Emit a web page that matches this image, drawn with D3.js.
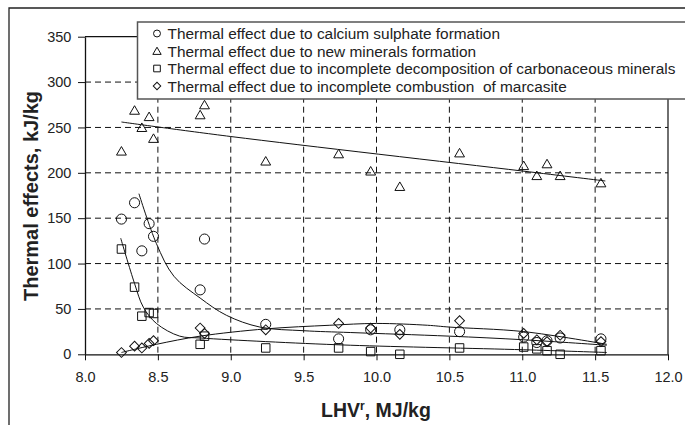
<!DOCTYPE html>
<html>
<head>
<meta charset="utf-8">
<script src="https://cdn.jsdelivr.net/npm/d3@7"></script>
<style>
  body { margin: 0; background: #fff; }
  svg { display: block; font-family: "Liberation Sans", Arial, sans-serif; }
</style>
</head>
<body>
<svg id="chart" width="685" height="425"></svg>
<script>
// LHV values shared by all four series
const lhv = [8.25, 8.34, 8.39, 8.44, 8.47, 8.79, 8.82, 9.24, 9.74, 9.96, 10.16, 10.57, 11.01, 11.10, 11.17, 11.26, 11.54];
const calciumSulphate = [149, 167, 114, 144, 130, 71, 127, 33, 17, 27, 27, 25, 19, 13, 15, 18, 17];
const newMinerals = [224, 269, 250, 262, 238, 264, 275, 213, 221, 202, 185, 222, 208, 197, 210, 197, 189];
const carbonaceous = [116, 74, 42, 46, 45, 11, 20, 7, 7, 3, 0, 7, 8, 6, 4, 0, 4];
const marcasite = [2, 9, 7, 12, 15, 29, 23, 27, 34, 29, 22, 37, 23, 16, 14, 21, 14];

// trend lines as drawn in the picture
const trendCalcium = [[8.37, 177], [8.49, 122], [8.61, 86], [8.79, 62], [8.97, 43], [9.2, 30], [9.5, 26], [9.82, 24], [10.5, 20], [11.01, 16], [11.58, 10]];
const trendMinerals = [[8.25, 256], [9.0, 240], [11.0, 202], [11.57, 191]];
const trendCarbon = [[8.245, 128], [8.34, 78], [8.4, 52], [8.49, 34], [8.65, 20], [8.79, 18], [9.24, 14], [9.82, 10], [11.01, 5], [11.58, 2]];
const trendMarcasite = [[8.25, 2], [8.49, 11], [8.79, 20], [9.24, 28], [9.68, 32], [10.0, 34], [10.35, 32], [10.5, 30], [11.01, 25], [11.58, 11]];

const xTicks = [8.0, 8.5, 9.0, 9.5, 10.0, 10.5, 11.0, 11.5, 12.0];
const yTicks = [0, 50, 100, 150, 200, 250, 300, 350];
const legendLabels = [
  "Thermal effect due to calcium sulphate formation",
  "Thermal effect due to new minerals formation",
  "Thermal effect due to incomplete decomposition of carbonaceous minerals",
  "Thermal effect due to incomplete combustion  of marcasite"
];

const svg = d3.select("#chart");
const plot = { left: 85, right: 668, top: 36.7, bottom: 354.3 };

const x = d3.scaleLinear().domain([8, 12]).range([plot.left, plot.right]);
const y = d3.scaleLinear().domain([0, 350]).range([plot.bottom, plot.top]);

// outer frame
svg.append("path")
  .attr("d", "M9,425 V8 H690")
  .attr("fill", "none")
  .attr("stroke", "#222")
  .attr("stroke-width", 1.3);

// grid
const grid = svg.append("g").attr("stroke", "#111").attr("stroke-dasharray", "6,4").attr("stroke-width", 1);
grid.selectAll(".gx").data(xTicks.slice(1, -1)).join("line")
  .attr("x1", d => x(d)).attr("x2", d => x(d))
  .attr("y1", plot.top).attr("y2", plot.bottom);
grid.selectAll(".gy").data(yTicks.slice(1, -1)).join("line")
  .attr("y1", d => y(d)).attr("y2", d => y(d))
  .attr("x1", plot.left).attr("x2", plot.right);

// plot border (top and right)
svg.append("path")
  .attr("d", `M${plot.left},${plot.top} H${plot.right} V${plot.bottom}`)
  .attr("fill", "none").attr("stroke", "#111").attr("stroke-width", 1.2);

// axes
const xAxis = svg.append("g")
  .attr("transform", `translate(0,${plot.bottom})`)
  .call(d3.axisBottom(x).tickValues(xTicks).tickFormat(d3.format(".1f")).tickSize(6).tickSizeOuter(0));
const yAxis = svg.append("g")
  .attr("transform", `translate(${plot.left},0)`)
  .call(d3.axisLeft(y).tickValues(yTicks).tickSize(7).tickSizeOuter(0));
[xAxis, yAxis].forEach(a => {
  a.select(".domain").attr("stroke", "#111").attr("stroke-width", 1.3);
  a.selectAll(".tick line").attr("stroke", "#111");
  a.selectAll("text").attr("fill", "#222").style("font-size", "14.5px").style("font-family", "'Liberation Sans', Arial, sans-serif");
});
xAxis.selectAll("text").attr("dy", "1.3em");
yAxis.selectAll("text").attr("dx", "-0.25em");

// axis titles
const xTitle = svg.append("text")
  .attr("x", 376).attr("y", 417)
  .attr("text-anchor", "middle")
  .style("font-size", "19.5px").style("font-weight", "bold").attr("fill", "#222");
xTitle.append("tspan").text("LHV");
xTitle.append("tspan").attr("dy", -7).style("font-size", "12px").text("r");
xTitle.append("tspan").attr("dy", 7).text(", MJ/kg");

svg.append("text")
  .attr("transform", "translate(38,196) rotate(-90)")
  .attr("text-anchor", "middle")
  .style("font-size", "20px").style("font-weight", "bold").attr("fill", "#222")
  .text("Thermal effects, kJ/kg");

// trend lines
const line = d3.line().x(d => x(d[0])).y(d => y(d[1])).curve(d3.curveCatmullRom.alpha(0.5));
[trendCalcium, trendMinerals, trendCarbon, trendMarcasite].forEach(t => {
  svg.append("path").datum(t)
    .attr("d", line)
    .attr("fill", "none").attr("stroke", "#111").attr("stroke-width", 1);
});

// markers (diamond = square turned 45deg)
const symbols = [d3.symbolCircle, d3.symbolTriangle, d3.symbolSquare, d3.symbolSquare];
const rotations = [0, 0, 0, 45];
const sizes = [80, 42, 72, 48];
const series = [calciumSulphate, newMinerals, carbonaceous, marcasite];
series.forEach((vals, i) => {
  const gen = d3.symbol().type(symbols[i]).size(sizes[i]);
  svg.append("g").selectAll("path")
    .data(vals.map((v, j) => [lhv[j], v]))
    .join("path")
    .attr("d", gen)
    .attr("transform", d => {
      const dy = i === 1 ? 1.2 : 0;
      return `translate(${x(d[0])},${y(d[1]) + dy}) rotate(${rotations[i]})`;
    })
    .attr("fill", "none").attr("stroke", "#111").attr("stroke-width", 1);
});

// legend
const legend = svg.append("g");
legend.append("rect")
  .attr("x", 137.5).attr("y", 22).attr("width", 560).attr("height", 77)
  .attr("fill", "#fff").attr("stroke", "#555").attr("stroke-width", 1.5);
const legendSizes = [38, 30, 44, 28];
legendLabels.forEach((lab, i) => {
  const cy = 33.5 + i * 17.5;
  legend.append("path")
    .attr("d", d3.symbol().type(symbols[i]).size(legendSizes[i]))
    .attr("transform", `translate(157,${cy + (i === 1 ? 1 : 0)}) rotate(${rotations[i]})`)
    .attr("fill", "none").attr("stroke", "#111").attr("stroke-width", 1);
  legend.append("text")
    .attr("x", 167.5).attr("y", cy + 5.5)
    .style("font-size", "15.4px").style("white-space", "pre").attr("fill", "#222")
    .text(lab);
});
</script>
</body>
</html>
